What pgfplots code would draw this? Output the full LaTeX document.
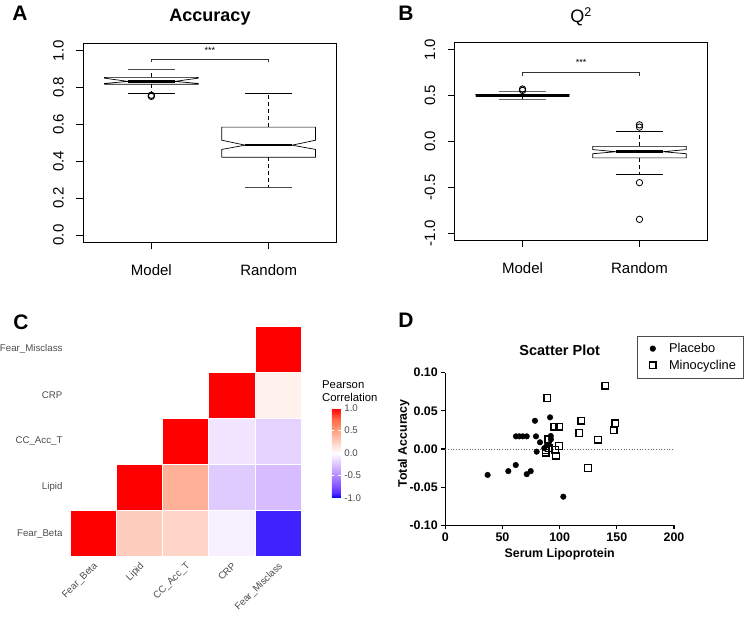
\documentclass[border=0pt]{standalone}
\usepackage{fontspec}
\setmainfont{Liberation Sans}
\usepackage{pgfplots}
\pgfplotsset{compat=1.18}
\begin{document}
\begin{tikzpicture}
\path[use as bounding box] (0pt,0pt) rectangle (746pt,620pt);

% panel letters and titles
\node[font=\bfseries\fontsize{21}{21}\selectfont] at (20pt,607pt) {A};
\node[font=\bfseries\fontsize{21}{21}\selectfont] at (406pt,607pt) {B};
\node[font=\bfseries\fontsize{21}{21}\selectfont] at (21pt,298pt) {C};
\node[font=\bfseries\fontsize{21}{21}\selectfont] at (406pt,300pt) {D};
\node[font=\bfseries\fontsize{18}{18}\selectfont] at (210pt,603pt) {Accuracy};
\node[font=\fontsize{18}{18}\selectfont] at (581pt,603pt) {Q\textsuperscript{2}};

% ---------------- Panel A ----------------
\begin{axis}[
 at={(83.3pt,377.7pt)}, anchor=south west, scale only axis,
 width=253.4pt, height=199pt,
 xmin=0.42, xmax=2.58, ymin=-0.04, ymax=1.04,
 xtick={1,2}, xticklabels={Model,Random},
 ytick={0,0.2,0.4,0.6,0.8,1}, yticklabels={0.0,0.2,0.4,0.6,0.8,1.0},
 tick pos=left, tick align=outside, major tick length=7pt,
 tick style={black, line width=0.6pt},
 axis line style={line width=0.8pt},
 ticklabel style={font=\fontsize{15}{15}\selectfont},
 yticklabel style={rotate=90, anchor=south},
 yticklabel shift=9pt, xticklabel shift=12pt,
 clip=false,
 /pgf/number format/assume math mode=true,
]
% Model
\addplot[black, line width=0.7pt] coordinates {(0.6,0.818) (0.6,0.822) (0.8,0.833) (0.6,0.851) (0.6,0.855) (1.4,0.855) (1.4,0.851) (1.2,0.833) (1.4,0.822) (1.4,0.818) (0.6,0.818)};
\addplot[black, line width=2.6pt] coordinates {(0.8,0.833) (1.2,0.833)};
\addplot[black, line width=0.7pt, dash pattern=on 4pt off 3pt] coordinates {(1,0.855) (1,0.90)};
\addplot[black, line width=0.7pt, dash pattern=on 4pt off 3pt] coordinates {(1,0.818) (1,0.767)};
\addplot[black!70, line width=0.8pt] coordinates {(0.8,0.90) (1.2,0.90)};
\addplot[black, line width=0.8pt] coordinates {(0.8,0.767) (1.2,0.767)};
\addplot[only marks, mark=o, mark size=3.2pt, mark options={line width=0.9pt}, black] coordinates {(1,0.752) (1,0.758)};
% Random
\addplot[black, line width=0.7pt] coordinates {(1.6,0.422) (1.6,0.464) (1.8,0.487) (1.6,0.514) (1.6,0.585) (2.4,0.585) (2.4,0.514) (2.2,0.487) (2.4,0.464) (2.4,0.422) (1.6,0.422)};
\addplot[black, line width=2.6pt] coordinates {(1.8,0.487) (2.2,0.487)};
\addplot[black, line width=0.7pt, dash pattern=on 4pt off 3pt] coordinates {(2,0.585) (2,0.767)};
\addplot[black, line width=0.7pt, dash pattern=on 4pt off 3pt] coordinates {(2,0.422) (2,0.258)};
\addplot[black, line width=0.8pt] coordinates {(1.8,0.767) (2.2,0.767)};
\addplot[black!70, line width=0.8pt] coordinates {(1.8,0.258) (2.2,0.258)};
% bracket
\addplot[black!80, line width=0.6pt] coordinates {(1,0.94) (1,0.955) (2,0.955) (2,0.94)};
\node[font=\fontsize{9}{9}\selectfont] at (axis cs:1.5,1.0) {***};
\end{axis}

% ---------------- Panel B ----------------
\begin{axis}[
 at={(454.7pt,380pt)}, anchor=south west, scale only axis,
 width=252.6pt, height=197.3pt,
 xmin=0.42, xmax=2.58, ymin=-1.075, ymax=1.075,
 xtick={1,2}, xticklabels={Model,Random},
 ytick={-1,-0.5,0,0.5,1}, yticklabels={-1.0,-0.5,0.0,0.5,1.0},
 tick pos=left, tick align=outside, major tick length=7pt,
 tick style={black, line width=0.6pt},
 axis line style={line width=0.8pt},
 ticklabel style={font=\fontsize{15}{15}\selectfont},
 yticklabel style={rotate=90, anchor=south},
 yticklabel shift=9pt, xticklabel shift=12pt,
 clip=false,
 /pgf/number format/assume math mode=true,
]
% Model
\addplot[black, line width=0.7pt] coordinates {(0.6,0.49) (0.6,0.493) (0.8,0.50) (0.6,0.507) (0.6,0.512) (1.4,0.512) (1.4,0.507) (1.2,0.50) (1.4,0.493) (1.4,0.49) (0.6,0.49)};
\addplot[black, line width=2.6pt] coordinates {(0.6,0.50) (1.4,0.50)};
\addplot[black, line width=0.7pt] coordinates {(1,0.512) (1,0.545)};
\addplot[black, line width=0.7pt] coordinates {(1,0.49) (1,0.462)};
\addplot[black!60, line width=0.8pt] coordinates {(0.8,0.545) (1.2,0.545)};
\addplot[black!60, line width=0.8pt] coordinates {(0.8,0.462) (1.2,0.462)};
\addplot[only marks, mark=o, mark size=3.2pt, mark options={line width=0.9pt}, black] coordinates {(1,0.555) (1,0.57)};
% Random
\addplot[black, line width=0.7pt] coordinates {(1.6,-0.18) (1.6,-0.135) (1.8,-0.113) (1.6,-0.09) (1.6,-0.055) (2.4,-0.055) (2.4,-0.09) (2.2,-0.113) (2.4,-0.135) (2.4,-0.18) (1.6,-0.18)};
\addplot[black, line width=2.6pt] coordinates {(1.8,-0.113) (2.2,-0.113)};
\addplot[black, line width=0.7pt, dash pattern=on 4pt off 3pt] coordinates {(2,-0.055) (2,0.113)};
\addplot[black, line width=0.7pt, dash pattern=on 4pt off 3pt] coordinates {(2,-0.18) (2,-0.356)};
\addplot[black, line width=0.8pt] coordinates {(1.8,0.113) (2.2,0.113)};
\addplot[black, line width=0.8pt] coordinates {(1.8,-0.356) (2.2,-0.356)};
\addplot[only marks, mark=o, mark size=3.2pt, mark options={line width=0.8pt}, black] coordinates {(2,0.18) (2,0.155) (2,-0.45) (2,-0.85)};
% bracket
\addplot[black!80, line width=0.6pt] coordinates {(1,0.716) (1,0.752) (2,0.752) (2,0.716)};
\node[font=\fontsize{9}{9}\selectfont] at (axis cs:1.5,0.86) {***};
\end{axis}

% ---------------- Panel C ----------------
\begin{axis}[
 at={(70pt,63.3pt)}, anchor=south west, scale only axis,
 width=231pt, height=230.7pt,
 xmin=0.5, xmax=5.5, ymin=0.5, ymax=5.5,
 axis line style={draw=none}, major tick length=0pt,
 xtick={1,2,3,4,5}, ytick={1,2,3,4,5},
 xticklabels={Fear\_Beta,Lipid,CC\_Acc\_T,CRP,Fear\_Misclass},
 yticklabels={Fear\_Beta,Lipid,CC\_Acc\_T,CRP,Fear\_Misclass},
 ticklabel style={font=\fontsize{9.7}{9.7}\selectfont, text=black!70},
 xticklabel style={rotate=45, anchor=north east},
 yticklabel style={anchor=east, xshift=-4pt},
 colormap={corr}{rgb255(0pt)=(0,0,255) rgb255(2pt)=(80,43,255) rgb255(5pt)=(126,81,255) rgb255(10pt)=(179,139,255) rgb255(15pt)=(220,196,255) rgb255(18pt)=(242,231,255) rgb255(20pt)=(255,255,255) rgb255(22pt)=(255,236,229) rgb255(25pt)=(255,207,191) rgb255(30pt)=(255,158,129) rgb255(35pt)=(255,104,70) rgb255(40pt)=(255,0,0)},
 point meta min=-1, point meta max=1,
 colorbar,
 colorbar style={
   at={(parent axis.north east)}, anchor=north west,
   xshift=22.3pt, yshift=-82pt,
   scale only axis, width=9pt, height=90pt,
   ytick={-1,-0.5,0,0.5,1}, yticklabels={-1.0,-0.5,0.0,0.5,1.0},
   yticklabel style={font=\fontsize{9.7}{9.7}\selectfont, text=black!70},
   major tick length=2.5pt, tick style={white, line width=0.6pt},
   axis line style={draw=none},
 },
 clip=false,
]
\addplot[patch, patch type=rectangle, shader=faceted, faceted color=white, line width=0.4pt, point meta=explicit]
table[meta=c] {
x y c
0.5 0.5 1
1.5 0.5 1
1.5 1.5 1
0.5 1.5 1
1.5 0.5 0.26
2.5 0.5 0.26
2.5 1.5 0.26
1.5 1.5 0.26
2.5 0.5 0.22
3.5 0.5 0.22
3.5 1.5 0.22
2.5 1.5 0.22
3.5 0.5 -0.06
4.5 0.5 -0.06
4.5 1.5 -0.06
3.5 1.5 -0.06
4.5 0.5 -0.92
5.5 0.5 -0.92
5.5 1.5 -0.92
4.5 1.5 -0.92
1.5 1.5 1
2.5 1.5 1
2.5 2.5 1
1.5 2.5 1
2.5 1.5 0.41
3.5 1.5 0.41
3.5 2.5 0.41
2.5 2.5 0.41
3.5 1.5 -0.22
4.5 1.5 -0.22
4.5 2.5 -0.22
3.5 2.5 -0.22
4.5 1.5 -0.28
5.5 1.5 -0.28
5.5 2.5 -0.28
4.5 2.5 -0.28
2.5 2.5 1
3.5 2.5 1
3.5 3.5 1
2.5 3.5 1
3.5 2.5 -0.11
4.5 2.5 -0.11
4.5 3.5 -0.11
3.5 3.5 -0.11
4.5 2.5 -0.19
5.5 2.5 -0.19
5.5 3.5 -0.19
4.5 3.5 -0.19
3.5 3.5 1
4.5 3.5 1
4.5 4.5 1
3.5 4.5 1
4.5 3.5 0.07
5.5 3.5 0.07
5.5 4.5 0.07
4.5 4.5 0.07
4.5 4.5 1
5.5 4.5 1
5.5 5.5 1
4.5 5.5 1
};
\end{axis}
\node[anchor=north west, align=left, font=\fontsize{11.3}{12.5}\selectfont, inner sep=0pt] at (322pt,239pt) {Pearson\\Correlation};

% ---------------- Panel D ----------------
\node[font=\bfseries\fontsize{14.5}{14.5}\selectfont] at (559.7pt,270pt) {Scatter Plot};
\node[font=\bfseries\fontsize{12.4}{12.4}\selectfont, rotate=90] at (403.7pt,176.7pt) {Total Accuracy};
\node[font=\bfseries\fontsize{12.4}{12.4}\selectfont] at (559.7pt,65.7pt) {Serum Lipoprotein};
\begin{axis}[
 at={(445.3pt,94.7pt)}, anchor=south west, scale only axis,
 width=228.7pt, height=152.6pt,
 xmin=0, xmax=200, ymin=-0.1, ymax=0.1,
 axis x line*=bottom, axis y line*=left,
 axis line style={line width=1.2pt, -},
 tick align=outside, major tick length=4pt, tick style={black, line width=1.1pt},
 xtick={0,50,100,150,200}, xticklabels={0,50,100,150,200},
 ytick={-0.1,-0.05,0,0.05,0.1}, yticklabels={-0.10,-0.05,0.00,0.05,0.10},
 ticklabel style={font=\bfseries\fontsize{12.4}{12.4}\selectfont},
 clip=false,
 legend style={at={(0.8395,1.2405)}, anchor=north west, draw=black!70, line width=0.5pt,
   font=\fontsize{12.8}{13}\selectfont, inner xsep=5pt, inner ysep=5pt, row sep=2pt, column sep=2pt},
 legend cell align=left,
 legend image code/.code={\draw[#1] plot coordinates {(10pt,0pt)}; \path (0pt,0pt) (22pt,0pt);},
 /pgf/number format/assume math mode=true,
]
\addplot[black!60, dotted, line width=0.7pt, forget plot] coordinates {(0,0) (200,0)};
\addplot[only marks, mark=*, mark size=2.8pt, black] coordinates {
(37.0,-0.034) (55.1,-0.029) (61.6,-0.021) (61.8,0.0166) (64.7,0.0166) (67.7,0.0166)
(71.2,0.0166) (71.2,-0.033) (74.7,-0.029) (78.4,0.037) (79.3,0.0166) (79.9,-0.0035)
(82.8,0.0088) (91.6,0.0415) (92.2,0.017) (92.4,0.0127) (88.7,0.005) (86.5,0.001)
(90.5,0.006) (103.2,-0.0625)};
\addlegendentry{Placebo}
\addplot[only marks, mark=square, mark size=3.3pt, mark options={line width=1.5pt}, black] coordinates {
(89.2,0.0668) (95.1,0.0292) (99.7,0.0292) (90.1,0.0127) (87.8,-0.0013) (87.8,-0.005)
(99.4,0.0039) (95.9,-0.0013) (96.8,-0.0088) (90.5,0.001) (117.3,0.021) (119.0,0.037)
(124.8,-0.0249) (133.5,0.0122) (139.7,0.083) (147.3,0.0245) (148.7,0.0337)};
\addlegendentry{Minocycline}
\end{axis}
\end{tikzpicture}
\end{document}
